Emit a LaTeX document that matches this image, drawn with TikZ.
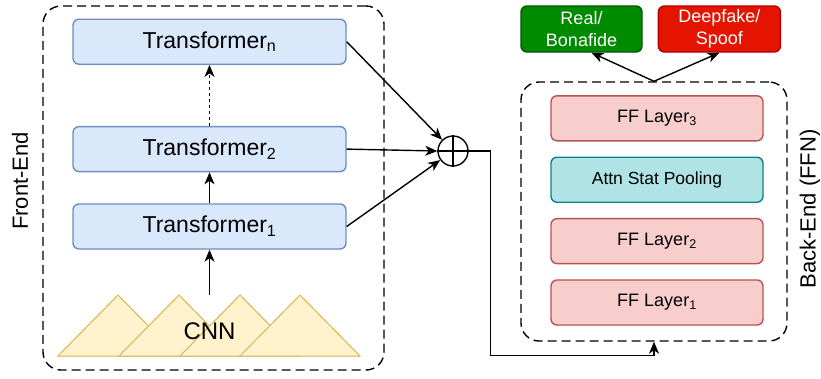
\documentclass[tikz,border=0pt]{standalone}
\usepackage{fontspec}
\setmainfont{Liberation Sans}
\usepackage{xcolor}
\usepackage{tikz}
\usetikzlibrary{shapes, arrows.meta, positioning}

\definecolor{tffill}{HTML}{DAE8FC}
\definecolor{tfline}{HTML}{6C8EBF}
\definecolor{fffill}{HTML}{F8CECC}
\definecolor{ffline}{HTML}{B85450}
\definecolor{poolfill}{HTML}{B0E3E6}
\definecolor{poolline}{HTML}{0E8088}
\definecolor{cnnfill}{HTML}{FFF2CC}
\definecolor{cnnline}{HTML}{D6B656}
\definecolor{realfill}{HTML}{008A00}
\definecolor{realline}{HTML}{005700}
\definecolor{fakefill}{HTML}{E51400}
\definecolor{fakeline}{HTML}{B20000}

\begin{document}
\begin{tikzpicture}[x=1pt, y=-1pt, line width=1.4pt,
	>={Stealth[length=12pt, width=10pt, inset=3.5pt]},
	tfblock/.style={draw=tfline, fill=tffill, rounded corners=6pt,
		minimum width=273pt, minimum height=45pt,
		font=\fontsize{23}{27}\selectfont},
	ffblock/.style={draw=ffline, fill=fffill, rounded corners=6pt,
		minimum width=212pt, minimum height=45pt,
		font=\fontsize{18}{22}\selectfont},
	outblock/.style={rounded corners=6pt, text=white, align=center,
		minimum height=46pt, inner sep=0pt,
		font=\fontsize{18}{22}\selectfont},
	groupbox/.style={draw, dash pattern=on 9pt off 5pt, rounded corners=18pt},
	sidelabel/.style={rotate=90, font=\fontsize{22}{26}\selectfont}]
	\useasboundingbox (0,0) rectangle (821,378);
	% Dashed groups
	\node[groupbox,
	minimum width=341pt,
	minimum height=364pt] (frontend) at (213.5,188) {};
	\node[groupbox,
	minimum width=266pt,
	minimum height=259pt] (backend) at (654,211.5) {};
	\node[sidelabel] (frontlabel) at (20,181) {Front-End};
	\node[sidelabel] (backlabel) at (810,209) {Back-End (FFN)};
	% CNN triangles
	\foreach \cx in {118,179,240,300}
	\filldraw[fill=cnnfill, draw=cnnline, line width=1pt]
	(\cx-60,356) -- (\cx,295) -- (\cx+60,356) -- cycle;
	\node[font=\fontsize{24}{28}\selectfont] (cnn) at (209.5,331) {CNN};
	\coordinate (cnntop) at (209.5,295);
	% Transformer blocks
	\node[tfblock] (trans1) at (209.5,226.5) {Transformer\textsubscript{1}};
	\node[tfblock,
	above=31pt of trans1] (trans2) {Transformer\textsubscript{2}};
	\node[tfblock,
	above=61pt of trans2] (transn) {Transformer\textsubscript{n}};
	% Sum
	\node[draw, circle,
	minimum size=30pt,
	inner sep=0pt] (sum) at (453,151) {};
	\draw (sum.north) -- (sum.south)
	(sum.west) -- (sum.east);
	% Back-end layers
	\node[ffblock] (ff1) at (657,302.5) {FF Layer\textsubscript{1}};
	\node[ffblock,
	above=15pt of ff1] (ff2) {FF Layer\textsubscript{2}};
	\node[ffblock,
	draw=poolline,
	fill=poolfill,
	font=\fontsize{17.5}{21}\selectfont,
	above=15pt of ff2] (pool) {Attn Stat Pooling};
	\node[ffblock,
	above=15pt of pool] (ff3) {FF Layer\textsubscript{3}};
	% Outputs
	\node[outblock,
	draw=realline,
	fill=realfill,
	minimum width=121pt] (real) at (581.5,29) {Real/\\Bonafide};
	\node[outblock,
	draw=fakeline,
	fill=fakefill,
	minimum width=122pt,
	right=15pt of real] (fake) {Deepfake/\\Spoof};
	% Arrows
	\draw[->] (cnntop) -- (trans1);
	\draw[->] (trans1) -- (trans2);
	\draw[->, dashed] (trans2) -- (transn);
	\draw[->] (transn.east) -- (sum);
	\draw[->] (trans2.east) -- (sum.west);
	\draw[->] (trans1.east) -- (sum);
	\draw[->] (sum.east) -- ++(22,0) |- ([yshift=-14pt]backend.south) -- (backend.south);
	\draw[->] (backend.north) -- ([xshift=10pt]real.south);
	\draw[->] (backend.north) -- (fake.south);
\end{tikzpicture}
\end{document}
